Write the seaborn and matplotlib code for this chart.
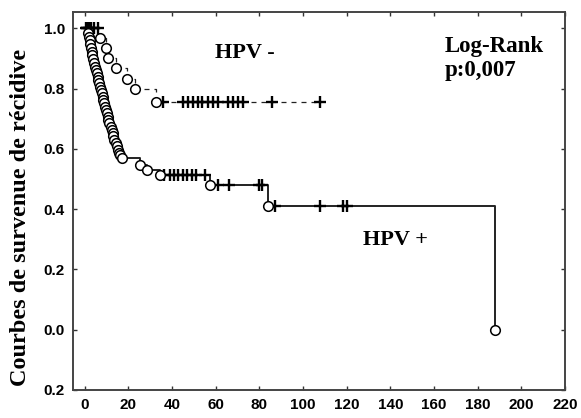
import numpy as np
import pandas as pd
import matplotlib
matplotlib.use("Agg")
import matplotlib.pyplot as plt
import seaborn as sns

# ---------------- data ----------------
# HPV+ : event times (months) and survival after each event
hpvp_event_t = [1.5, 2.0, 2.3, 2.6, 3.0, 3.3, 3.6, 4.0, 4.4, 4.8,
                5.2, 5.6, 6.0, 6.3, 6.7, 7.1, 7.5, 7.9, 8.3, 8.6,
                9.0, 9.4, 9.8, 10.2, 10.6, 10.9, 11.4, 11.9, 12.4, 12.8,
                13.2, 13.7, 14.2, 14.7, 15.2, 15.7, 16.2, 17.2,
                25.4, 28.5, 34.6, 57.6, 84.0, 187.9]
hpvp_event_s = [0.985, 0.972, 0.960, 0.948, 0.935, 0.922, 0.910, 0.897, 0.885, 0.872,
                0.861, 0.850, 0.839, 0.828, 0.817, 0.806, 0.795, 0.784, 0.773, 0.762,
                0.751, 0.740, 0.729, 0.718, 0.707, 0.696, 0.685, 0.674, 0.663, 0.652,
                0.641, 0.630, 0.619, 0.608, 0.597, 0.586, 0.578, 0.569,
                0.547, 0.531, 0.514, 0.480, 0.410, 0.000]
hpvp_censor_t = [0.5, 1.0, 36.5, 39.0, 41.0, 43.0, 45.0, 47.0, 49.0, 51.0,
                 55.3, 61.0, 66.0, 80.0, 81.3, 87.2, 107.8, 118.3, 120.0]

# HPV- : event times and survival after each event
hpvm_event_t = [7.1, 10.0, 10.8, 14.2, 19.3, 23.3, 32.7]
hpvm_event_s = [0.968, 0.936, 0.902, 0.868, 0.832, 0.797, 0.757]
hpvm_censor_t = [1.0, 2.0, 3.0, 4.5, 6.0, 36.0, 45.0, 47.3, 49.5, 51.8,
                 54.0, 56.4, 58.6, 60.9, 65.7, 68.0, 70.2, 72.5, 85.8, 107.8]

x_ticks = [0, 20, 40, 60, 80, 100, 120, 140, 160, 180, 200, 220]
y_ticks = [-0.2, 0.0, 0.2, 0.4, 0.6, 0.8, 1.0]
y_tick_labels = ["0.2", "0.0", "0.2", "0.4", "0.6", "0.8", "1.0"]

y_label = "Courbes de survenue de récidive"
lbl_neg = "HPV -"
lbl_pos = "HPV +"
lbl_test = "Log-Rank\np:0,007"


def step_frame(ev_t, ev_s, end_t=None):
    xs = [0.0] + list(ev_t)
    ys = [1.0] + list(ev_s)
    if end_t is not None and end_t > xs[-1]:
        xs.append(end_t)
        ys.append(ys[-1])
    return pd.DataFrame({"t": xs, "s": ys})


def censor_frame(ev_t, ev_s, c_t):
    ev_t = np.asarray(ev_t)
    ev_s = np.asarray(ev_s)
    levels = []
    for c in c_t:
        idx = np.searchsorted(ev_t, c, side="right") - 1
        levels.append(1.0 if idx < 0 else ev_s[idx])
    return pd.DataFrame({"t": c_t, "s": levels})


sns.set_style("ticks")
plt.rcParams["font.family"] = ["Liberation Sans", "DejaVu Sans"]
plt.rcParams["text.color"] = "black"

fig = plt.figure(figsize=(5.81, 4.18), dpi=100)
ax = fig.add_axes([0.126, 0.067, 0.8465, 0.905])

line_col = "#222222"

# HPV- curve (dashed)
df_m = step_frame(hpvm_event_t, hpvm_event_s, end_t=max(hpvm_censor_t))
sns.lineplot(data=df_m, x="t", y="s", ax=ax, estimator=None, sort=False,
             drawstyle="steps-post", color=line_col, linewidth=0.9,
             linestyle=(0, (4, 4)))
# HPV+ curve (solid)
df_p = step_frame(hpvp_event_t, hpvp_event_s)
sns.lineplot(data=df_p, x="t", y="s", ax=ax, estimator=None, sort=False,
             drawstyle="steps-post", color=line_col, linewidth=1.4)

# censored marks
for ev_t, ev_s, c_t in [(hpvm_event_t, hpvm_event_s, hpvm_censor_t),
                        (hpvp_event_t, hpvp_event_s, hpvp_censor_t)]:
    dfc = censor_frame(ev_t, ev_s, c_t)
    sns.scatterplot(data=dfc, x="t", y="s", ax=ax, marker="+", s=75,
                    color="black", linewidth=1.7, zorder=4)

# event circles
for ev_t, ev_s in [(hpvm_event_t, hpvm_event_s), (hpvp_event_t, hpvp_event_s)]:
    dfe = pd.DataFrame({"t": ev_t, "s": ev_s})
    sns.scatterplot(data=dfe, x="t", y="s", ax=ax, marker="o", s=48,
                    facecolor="white", edgecolor="black", linewidth=1.1,
                    zorder=5)

ax.set_xlim(-5.2, 220)
ax.set_ylim(-0.2, 1.055)
ax.set_xticks(x_ticks)
ax.set_yticks(y_ticks)
ax.set_yticklabels(y_tick_labels)
ax.tick_params(direction="in", length=3, width=1.0, top=True, right=True,
               labelsize=11, colors="#333333", labelcolor="black", pad=6)
for lab in ax.get_xticklabels() + ax.get_yticklabels():
    lab.set_fontweight("bold")
for sp in ax.spines.values():
    sp.set_linewidth(1.4)
    sp.set_color("#444444")

serif = ["Liberation Serif", "DejaVu Serif"]
ax.set_xlabel("")
ax.set_ylabel(y_label, family=serif, fontweight="bold", fontsize=17.5,
              color="black")
ax.yaxis.set_label_coords(-0.086, 0.455)

ax.text(59.7, 0.917, lbl_neg, family=serif, fontweight="bold", fontsize=16,
        va="center", ha="left", color="black")
ax.text(127.5, 0.296, lbl_pos, family=serif, fontweight="bold", fontsize=16,
        va="center", ha="left", color="black")
ax.text(165, 0.90, lbl_test, family=serif, fontweight="bold", fontsize=16.5,
        va="center", ha="left", linespacing=1.22, color="black")

fig.savefig("out.png", dpi=100)
